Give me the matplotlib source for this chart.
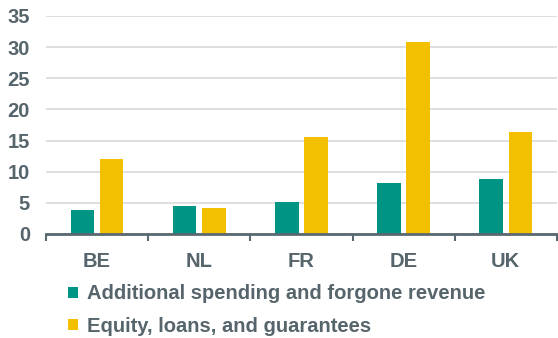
import numpy as np
import matplotlib.pyplot as plt
from matplotlib import font_manager as fm

countries = ["BE", "NL", "FR", "DE", "UK"]
spending = [3.8, 4.5, 5.1, 8.2, 8.9]
equity = [12.0, 4.1, 15.6, 30.8, 16.4]
yticks = [0, 5, 10, 15, 20, 25, 30, 35]

teal = "#009485"
gold = "#f2c000"
txt = "#56646c"

bold_path = [f.fname for f in fm.fontManager.ttflist
             if f.name == "Liberation Sans" and f.weight == 700 and f.style == "normal"][0]
fp = fm.FontProperties(fname=bold_path, size=14.5)

fig = plt.figure(figsize=(5.58, 3.38), dpi=100)
ax = fig.add_axes([0.0824, 0.3077, 0.9156, 0.645])

x = np.arange(len(countries))
w = 0.23
ax.bar(x - 0.143, spending, w, color=teal, label="Additional spending and forgone revenue", zorder=3)
ax.bar(x + 0.143, equity, w, color=gold, label="Equity, loans, and guarantees", zorder=3)

ax.set_xlim(-0.5, 4.5)
ax.set_ylim(0, 35)
ax.set_yticks(yticks)
ax.set_yticklabels([str(v) for v in yticks], color=txt, fontproperties=fp)
ax.yaxis.grid(True, color="#d9d9d9", linewidth=1.2, zorder=0)
ax.tick_params(axis="y", length=0, pad=11.5)

ax.set_xticks(x)
ax.set_xticklabels(countries, color=txt, fontproperties=fp)
ax.set_xticks(np.arange(-0.5, 5, 1), minor=True)
ax.tick_params(axis="x", which="major", length=0, pad=13)
ax.tick_params(axis="x", which="minor", length=5, width=1.5, color="#5a6870", direction="out")

for s in ["top", "right", "left"]:
    ax.spines[s].set_visible(False)
ax.spines["bottom"].set_color("#5a6870")
ax.spines["bottom"].set_linewidth(2)
ax.spines["bottom"].set_zorder(4)

fig.legend(loc="upper left", bbox_to_anchor=(0.122, 0.159), frameon=False,
           prop=fp, labelcolor=txt,
           handlelength=0.47, handleheight=0.47, handletextpad=0.45, labelspacing=0.67,
           borderpad=0, borderaxespad=0)

fig.savefig("out.png", dpi=100)
